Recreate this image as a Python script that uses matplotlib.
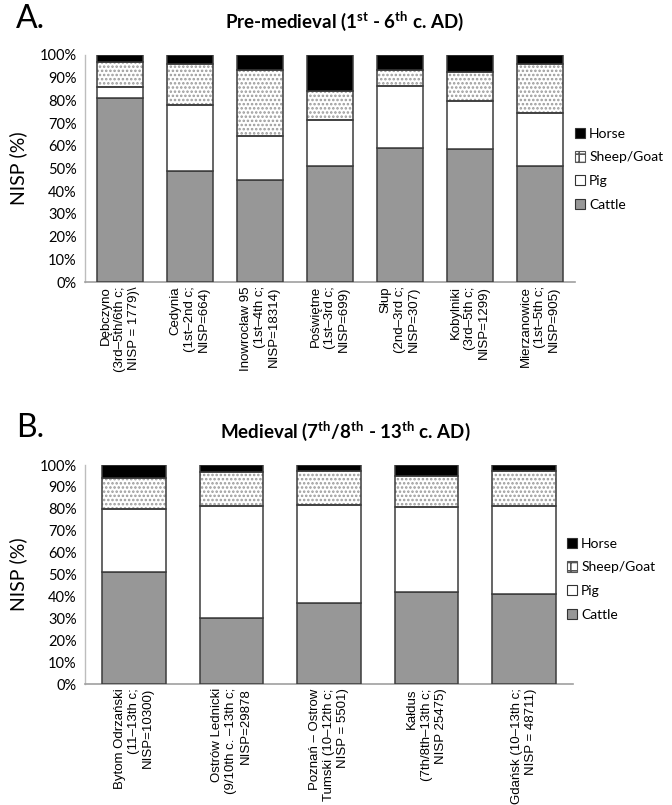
import numpy as np
import matplotlib
matplotlib.use("Agg")
import matplotlib.pyplot as plt
from matplotlib.patches import Patch
from matplotlib.ticker import PercentFormatter

# ---- data: share of NISP per taxon (%) ----
sites_pre = [
    "Dębczyno\n(3rd–5th/6th c;\nNISP = 1779)\\",
    "Cedynia\n(1st–2nd c;\nNISP=664)",
    "Inowrocław 95\n(1st–4th c;\nNISP=18314)",
    "Poświętne\n(1st–3rd c;\nNISP=699)",
    "Słup\n(2nd–3rd c;\nNISP=307)",
    "Kobylniki\n(3rd–5th c;\nNISP=1299)",
    "Mierzanowice\n(1st–5th c;\nNISP=905)",
]
cattle_pre = [81.2, 48.8, 45.1, 51.0, 59.2, 58.4, 51.0]
pig_pre = [4.8, 29.0, 19.4, 20.2, 27.3, 21.3, 23.5]
sheep_pre = [10.8, 18.1, 28.9, 13.1, 6.9, 13.0, 21.5]
horse_pre = [3.2, 4.1, 6.6, 15.7, 6.6, 7.3, 4.0]

sites_med = [
    "Bytom Odrzański\n(11–13th c;\nNISP=10300)",
    "Ostrów Lednicki\n(9/10th c. –13th c;\nNISP=29878",
    "Poznań – Ostrow\nTumski (10–12th c;\nNISP = 5501)",
    "Kałdus\n(7th/8th–13th c;\nNISP 25475)",
    "Gdańsk (10–13th c;\nNISP = 48711)",
]
cattle_med = [51.0, 30.0, 36.8, 41.8, 41.0]
pig_med = [29.0, 51.5, 44.9, 39.0, 40.3]
sheep_med = [14.0, 15.5, 15.5, 14.2, 16.0]
horse_med = [6.0, 3.0, 2.8, 5.0, 2.7]

taxa = ["Cattle", "Pig", "Sheep/Goat", "Horse"]
face = {"Cattle": "#979797", "Pig": "#ffffff", "Sheep/Goat": "#ffffff", "Horse": "#000000"}
EDGE = "#3c3c3c"
CAL = ["Lato", "DejaVu Sans"]
ARIAL = ["Liberation Sans", "DejaVu Sans"]

plt.rcParams["hatch.linewidth"] = 1.2
plt.rcParams["mathtext.fontset"] = "custom"
plt.rcParams["mathtext.rm"] = "Lato"
plt.rcParams["mathtext.bf"] = "Lato:bold"

W, H = 672, 805
fig = plt.figure(figsize=(W / 100, H / 100), dpi=100)


def stacked(ax, labels, series):
    x = np.arange(len(labels))
    bottom = np.zeros(len(labels))
    width = 0.65
    for name, vals in zip(taxa, series):
        vals = np.asarray(vals, dtype=float) / 100.0
        if name == "Sheep/Goat":
            ax.bar(x, vals, width, bottom=bottom, color="white",
                   edgecolor="#9a9a9a", linewidth=0, hatch="....", zorder=2)
            ax.bar(x, vals, width, bottom=bottom, fill=False,
                   edgecolor=EDGE, linewidth=1.1, zorder=3)
        else:
            ax.bar(x, vals, width, bottom=bottom, color=face[name],
                   edgecolor=EDGE, linewidth=1.1, zorder=3)
        bottom += vals
    ax.set_xlim(-0.5, len(labels) - 0.5)
    ax.set_ylim(0, 1.0)
    ax.set_yticks(np.arange(0, 1.01, 0.1))
    ax.yaxis.set_major_formatter(PercentFormatter(1.0, decimals=0))
    ax.set_xticks(x)
    ax.set_xticklabels(labels, rotation=90, ha="center", va="top",
                       multialignment="right", fontsize=9.5,
                       family=ARIAL, linespacing=1.25)
    for t in ax.get_yticklabels():
        t.set_fontsize(10.5)
        t.set_family(CAL)
    ax.tick_params(axis="both", length=0, pad=6)
    ax.tick_params(axis="x", pad=3)
    for s in ("top", "right"):
        ax.spines[s].set_visible(False)
    ax.spines["left"].set_color("#bdbdbd")
    ax.spines["bottom"].set_color("#a0a0a0")
    ax.spines["left"].set_linewidth(1.0)
    ax.spines["bottom"].set_linewidth(1.2)
    ax.set_ylabel("NISP (%)", fontsize=14, family=CAL, labelpad=9)


def legend_handles():
    hs = []
    for name in reversed(taxa):
        if name == "Sheep/Goat":
            hs.append(Patch(facecolor="white", edgecolor="#555555",
                            hatch="++", linewidth=0.8, label=name))
        else:
            hs.append(Patch(facecolor=face[name], edgecolor="#333333",
                            linewidth=0.8, label=name))
    return hs


def fy(y):
    return 1 - y / H


axA = fig.add_axes([85 / W, fy(282), 490 / W, 227 / H])
stacked(axA, sites_pre, [cattle_pre, pig_pre, sheep_pre, horse_pre])
axB = fig.add_axes([85 / W, fy(684), 488 / W, 219 / H])
stacked(axB, sites_med, [cattle_med, pig_med, sheep_med, horse_med])

fig.text(16 / W, fy(19), "A.", fontsize=23, family=CAL, va="center", ha="left")
fig.text(345 / W, fy(21), r"Pre-medieval (1$^{\mathbf{st}}$ - 6$^{\mathbf{th}}$ c. AD)",
         fontsize=13.5, family=CAL, weight="bold", ha="center", va="center")
fig.text(16 / W, fy(428), "B.", fontsize=23, family=CAL, va="center", ha="left")
fig.text(345 / W, fy(431), r"Medieval (7$^{\mathbf{th}}$/8$^{\mathbf{th}}$ - 13$^{\mathbf{th}}$ c. AD)",
         fontsize=13.5, family=CAL, weight="bold", ha="center", va="center")

fig.legend(handles=legend_handles(), loc="upper left",
           bbox_to_anchor=(569 / W, fy(122)), frameon=False,
           prop={"family": CAL, "size": 10}, handlelength=0.75,
           handleheight=0.75, handletextpad=0.3, labelspacing=0.85,
           borderaxespad=0)
fig.legend(handles=legend_handles(), loc="upper left",
           bbox_to_anchor=(561 / W, fy(532)), frameon=False,
           prop={"family": CAL, "size": 10}, handlelength=0.75,
           handleheight=0.75, handletextpad=0.3, labelspacing=0.85,
           borderaxespad=0)

fig.savefig("out.png", dpi=100, facecolor="white")
